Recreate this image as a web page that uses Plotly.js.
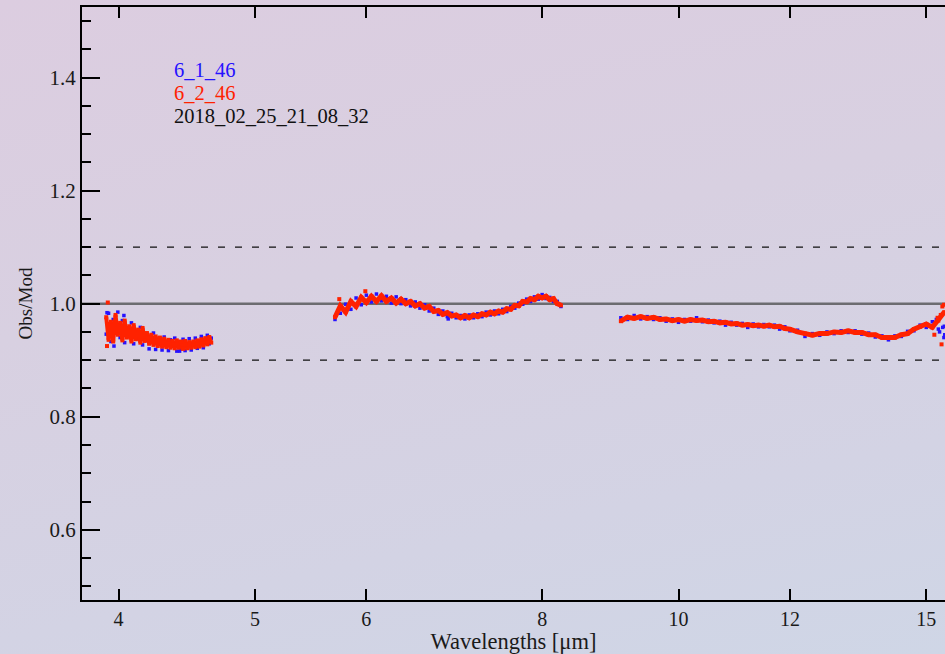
<!DOCTYPE html>
<html><head><meta charset="utf-8">
<script src="https://cdn.plot.ly/plotly-3.0.1.min.js"></script>
<style>
html,body{margin:0;padding:0;width:945px;height:654px;overflow:hidden;
background:linear-gradient(168deg,#dccde0 0%,#d8d0e1 40%,#d3d3e4 75%,#cfd6e6 100%);}
#chart{width:945px;height:654px;}
</style></head><body><div id="chart"></div>
<script>
// ---- data ----
const wave1 = [3.920,3.935,3.950,3.965,3.980,3.995,4.010,4.025,4.040,4.055,
               4.070,4.085,4.100,4.115,4.130,4.145,4.160,4.175,4.190,4.205,
               4.220,4.235,4.250,4.265,4.280,4.295,4.310,4.325,4.340,4.355,
               4.370,4.385,4.400,4.415,4.430,4.445,4.460,4.475,4.490,4.505,
               4.520,4.535,4.550,4.565,4.580,4.595,4.610,4.625,4.640,4.655];
const red1 = [0.976,0.936,0.968,0.933,0.980,0.945,0.966,0.935,0.970,0.940,
              0.960,0.933,0.962,0.937,0.954,0.931,0.957,0.934,0.948,0.929,
              0.945,0.927,0.942,0.925,0.940,0.924,0.938,0.923,0.936,0.922,
              0.934,0.921,0.935,0.922,0.933,0.920,0.934,0.921,0.932,0.922,
              0.933,0.923,0.935,0.924,0.937,0.926,0.939,0.928,0.941,0.931];
const blue1 = [0.946,0.983,0.933,0.972,0.952,0.985,0.940,0.970,0.931,0.955,
               0.945,0.966,0.929,0.951,0.938,0.958,0.927,0.947,0.935,0.920,
               0.939,0.948,0.919,0.936,0.930,0.918,0.941,0.928,0.917,0.936,
               0.926,0.939,0.916,0.930,0.920,0.937,0.917,0.929,0.938,0.918,
               0.928,0.939,0.921,0.931,0.942,0.922,0.933,0.944,0.929,0.939];

const wave2 = [5.70,5.75,5.80,5.85,5.90,5.95,6.00,6.05,6.10,6.15,
               6.20,6.25,6.30,6.35,6.40,6.45,6.50,6.55,6.60,6.65,
               6.70,6.75,6.80,6.85,6.90,6.95,7.00,7.05,7.10,7.15,
               7.20,7.25,7.30,7.35,7.40,7.45,7.50,7.55,7.60,7.65,
               7.70,7.75,7.80,7.85,7.90,7.95,8.00,8.05,8.10,8.15,
               8.20,8.25];
const red2 = [0.976,0.996,0.985,1.004,0.995,1.011,1.002,1.013,1.004,1.014,
              1.004,1.010,1.001,1.008,1.000,1.004,0.996,1.000,0.992,0.995,
              0.986,0.988,0.981,0.984,0.978,0.980,0.975,0.979,0.975,0.980,
              0.977,0.982,0.980,0.985,0.982,0.987,0.985,0.991,0.990,0.997,
              0.996,1.004,1.003,1.009,1.007,1.013,1.010,1.013,1.007,1.009,
              1.000,0.997];
const blue2 = [0.972,0.983,0.999,0.990,1.010,0.998,1.015,1.003,1.017,1.005,
               1.013,1.001,1.012,1.000,1.007,0.996,1.003,0.992,0.998,0.987,
               0.992,0.981,0.987,0.977,0.983,0.975,0.979,0.973,0.980,0.975,
               0.982,0.977,0.985,0.980,0.987,0.982,0.990,0.986,0.995,0.992,
               1.001,0.999,1.008,1.004,1.012,1.008,1.016,1.009,1.011,1.004,
               1.004,0.995];

const wave3 = [9.1,9.2,9.3,9.4,9.5,9.6,9.7,9.8,9.9,10.0,
               10.1,10.2,10.3,10.4,10.5,10.6,10.7,10.8,10.9,11.0,
               11.1,11.2,11.3,11.4,11.5,11.6,11.7,11.8,11.9,12.0,
               12.15,12.3,12.45,12.6,12.75,12.9,13.05,13.2,13.35,13.5,
               13.65,13.8,13.95,14.1,14.25,14.4,14.55,14.7,14.85,15.0,
               15.15,15.3,15.45];
const red3 = [0.969,0.976,0.974,0.977,0.974,0.976,0.972,0.973,0.970,0.972,
              0.969,0.972,0.970,0.971,0.968,0.969,0.966,0.967,0.964,0.965,
              0.962,0.963,0.961,0.962,0.960,0.962,0.959,0.960,0.956,0.955,
              0.950,0.947,0.944,0.947,0.947,0.950,0.949,0.952,0.949,0.949,
              0.945,0.945,0.940,0.940,0.940,0.945,0.947,0.955,0.959,0.964,
              0.958,0.970,0.985];
const blue3 = [0.975,0.972,0.979,0.973,0.977,0.972,0.975,0.969,0.973,0.967,
               0.972,0.969,0.975,0.968,0.971,0.966,0.969,0.962,0.967,0.962,
               0.965,0.958,0.964,0.959,0.963,0.959,0.962,0.955,0.959,0.952,
               0.953,0.942,0.947,0.944,0.950,0.947,0.952,0.949,0.952,0.946,
               0.948,0.941,0.943,0.936,0.943,0.942,0.951,0.952,0.962,0.958,
               0.968,0.955,0.960];

const redOutX  = [3.930,3.925,5.740,5.990,15.28,15.36,15.40,15.44,15.38,15.20];
const redOutY  = [1.002,0.925,1.008,1.022,0.975,0.980,0.995,0.998,0.928,0.945];
const blueOutX = [3.925,3.970,4.035,4.420,6.860,15.25,15.33,15.41,15.44,15.46];
const blueOutY = [0.984,0.925,0.979,0.916,0.973,0.972,0.950,0.958,0.940,0.945];

const refSolid = [1.0];
const refDashed = [0.9, 1.1];
const xTickVals = [4, 5, 6, 8, 10, 12, 15];
const xTickText = ['4', '5', '6', '8', '10', '12', '15'];
const labelTexts = ['6_1_46', '6_2_46', '2018_02_25_21_08_32'];

// ---- styling ----
const RED = '#ff2200', BLUE = '#2612ff';
const FONT = 'Liberation Serif, Times New Roman, serif';
const traces = [];

[[wave1, blue1], [wave2, blue2], [wave3, blue3]].forEach(([x, y]) => {
  traces.push({x, y, type: 'scatter', mode: 'markers',
    marker: {color: BLUE, size: 3.5, symbol: 'square'}, hoverinfo: 'skip'});
});
traces.push({x: blueOutX, y: blueOutY, type: 'scatter', mode: 'markers',
  marker: {color: BLUE, size: 3.5, symbol: 'square'}, hoverinfo: 'skip'});

[[wave1, red1, 4], [wave2, red2, 5], [wave3, red3, 5]].forEach(([x, y, w]) => {
  traces.push({x, y, type: 'scatter', mode: 'lines+markers',
    line: {color: RED, width: w},
    marker: {color: RED, size: 4, symbol: 'square'}, hoverinfo: 'skip'});
});
traces.push({x: redOutX, y: redOutY, type: 'scatter', mode: 'markers',
  marker: {color: RED, size: 4, symbol: 'square'}, hoverinfo: 'skip'});

const shapes = [];
refSolid.forEach(v => shapes.push({type: 'line', xref: 'paper', x0: 0, x1: 1,
  yref: 'y', y0: v, y1: v, layer: 'below', line: {color: '#6c6c70', width: 2.5}}));
refDashed.forEach(v => shapes.push({type: 'line', xref: 'paper', x0: 0, x1: 1,
  yref: 'y', y0: v, y1: v, layer: 'below', line: {color: '#111', width: 1.3, dash: '7px,10px'}}));

const labelColors = [BLUE, RED, '#111'];
const labelY = [0.8938, 0.8550, 0.8162];
const annotations = labelTexts.map((t, i) => ({
  text: t, xref: 'paper', yref: 'paper', x: 0.106, y: labelY[i],
  xanchor: 'left', yanchor: 'middle', showarrow: false, borderpad: 0,
  font: {family: FONT, size: 20.5, color: labelColors[i]}
}));

const layout = {
  width: 945, height: 654,
  margin: {l: 82, r: 0, t: 7, b: 54},
  paper_bgcolor: 'rgba(0,0,0,0)', plot_bgcolor: 'rgba(0,0,0,0)',
  showlegend: false,
  font: {family: FONT, size: 20, color: '#1a1a1a'},
  xaxis: {
    type: 'log', range: [0.57606, 1.18941],
    tickvals: xTickVals, ticktext: xTickText,
    ticks: 'inside', ticklen: 11, tickwidth: 2, tickcolor: '#000',
    showline: true, linewidth: 2, linecolor: '#000', mirror: 'ticks',
    showgrid: false, zeroline: false,
    tickfont: {family: FONT, size: 20, color: '#1a1a1a'},
    title: {text: 'Wavelengths [μm]', font: {family: FONT, size: 22.5, color: '#1a1a1a'}, standoff: 0}
  },
  yaxis: {
    range: [0.4758, 1.5247], dtick: 0.2, tick0: 0,
    ticks: 'inside', ticklen: 18, tickwidth: 2, tickcolor: '#000',
    minor: {dtick: 0.05, tick0: 0, ticks: 'inside', ticklen: 9, tickwidth: 2, tickcolor: '#000', showgrid: false},
    showline: true, linewidth: 2, linecolor: '#000', mirror: false,
    showgrid: false, zeroline: false,
    tickformat: '.1f',
    tickfont: {family: FONT, size: 21, color: '#1a1a1a'},
    title: {text: 'Obs/Mod', font: {family: FONT, size: 19, color: '#1a1a1a'}, standoff: 12}
  },
  shapes, annotations
};

Plotly.newPlot('chart', traces, layout, {displayModeBar: false, staticPlot: true});
</script></body></html>
